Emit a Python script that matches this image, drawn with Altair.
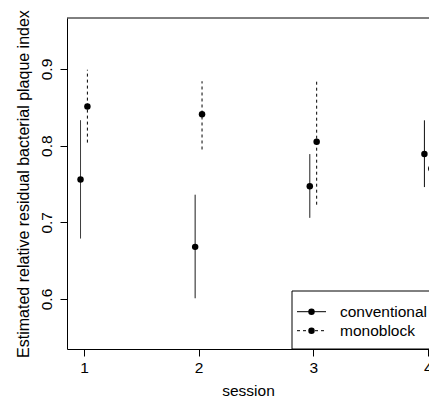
import altair as alt
import pandas as pd

sessions = [1, 2, 3, 4]
conv_est = [0.756, 0.668, 0.747, 0.789]
conv_lo = [0.679, 0.601, 0.706, 0.746]
conv_hi = [0.833, 0.736, 0.789, 0.833]
mono_est = [0.851, 0.841, 0.805, 0.770]
mono_lo = [0.804, 0.795, 0.723, 0.730]
mono_hi = [0.899, 0.884, 0.887, 0.809]
groups = ["conventional", "monoblock"]
x_ticks = [1, 2, 3, 4]
y_ticks = [0.6, 0.7, 0.8, 0.9]

rows = []
for g, est, lo, hi in [("conventional", conv_est, conv_lo, conv_hi),
                       ("monoblock", mono_est, mono_lo, mono_hi)]:
    for s, e, l, h in zip(sessions, est, lo, hi):
        rows.append(dict(session=s, group=g, est=e, lo=l, hi=h))
df = pd.DataFrame(rows)

W, H = 362, 331
FONT = "Liberation Sans"
FS = 15.5
xs = alt.Scale(domain=[0.852, 4.01], nice=False, zero=False)
ys = alt.Scale(domain=[0.5348, 0.9665], nice=False, zero=False)
DASHES = [[1, 0], [3, 3]]
dash = alt.Scale(domain=groups, range=DASHES)

base = alt.Chart(df).transform_calculate(
    xpos="datum.session + (datum.group == 'conventional' ? -0.03 : 0.03)"
)

xaxis = alt.Axis(values=x_ticks, title="session", tickSize=7, labelPadding=4,
                 labelFlush=False, labelOverlap=False, titlePadding=8,
                 format="d")
yaxis = alt.Axis(values=y_ticks, title="Estimated relative residual bacterial plaque index",
                 tickSize=7, labelAngle=270, labelAlign="center", labelBaseline="bottom",
                 labelPadding=6, titlePadding=8, titleFontSize=16, format=".1f")

bars = base.mark_rule(color="black", strokeWidth=1, clip=True).encode(
    x=alt.X("xpos:Q", scale=xs, axis=xaxis),
    y=alt.Y("lo:Q", scale=ys, axis=yaxis),
    y2="hi:Q",
    strokeDash=alt.StrokeDash("group:N", scale=dash, legend=None),
)
pts = base.mark_point(filled=True, color="black", size=42, opacity=1, clip=True).encode(
    x=alt.X("xpos:Q", scale=xs, axis=xaxis),
    y=alt.Y("est:Q", scale=ys, axis=yaxis),
)

one = pd.DataFrame({"a": [0]})
top = alt.Chart(one).mark_rule(color="black", strokeWidth=1).encode(
    x=alt.value(0), x2=alt.value(W + 20), y=alt.value(0)
)

# legend box
box = alt.Chart(one).mark_rect(
    fill="white", stroke="black", strokeWidth=1
).encode(x=alt.value(225), x2=alt.value(W + 20), y=alt.value(273), y2=alt.value(H))

legend_layers = []
for label, ly, d in zip(groups, [293.7, 312.7], DASHES):
    legend_layers.append(alt.Chart(one).mark_rule(color="black", strokeWidth=1, strokeDash=d).encode(
        x=alt.value(230), x2=alt.value(259), y=alt.value(ly)))
    legend_layers.append(alt.Chart(one).mark_point(filled=True, color="black", size=42, opacity=1).encode(
        x=alt.value(244.5), y=alt.value(ly)))
    legend_layers.append(alt.Chart(one).mark_text(align="left", baseline="middle", font=FONT,
                                                  fontSize=FS, color="black").encode(
        x=alt.value(273), y=alt.value(ly), text=alt.value(label)))

chart = alt.layer(bars, pts, top, box, *legend_layers).properties(
    width=W, height=H,
    autosize=alt.AutoSizeParams(type="none"),
    padding={"left": 67, "top": 18, "right": 0, "bottom": 55},
).configure_view(stroke=None).configure_axis(
    labelFont=FONT, titleFont=FONT, labelFontSize=FS, titleFontSize=FS,
    labelColor="black", titleColor="black", titleFontWeight="normal",
    domainColor="black", tickColor="black", grid=False, domainWidth=1, tickWidth=1,
)

chart.save("out.html", embed_options={"renderer": "svg", "actions": False})
